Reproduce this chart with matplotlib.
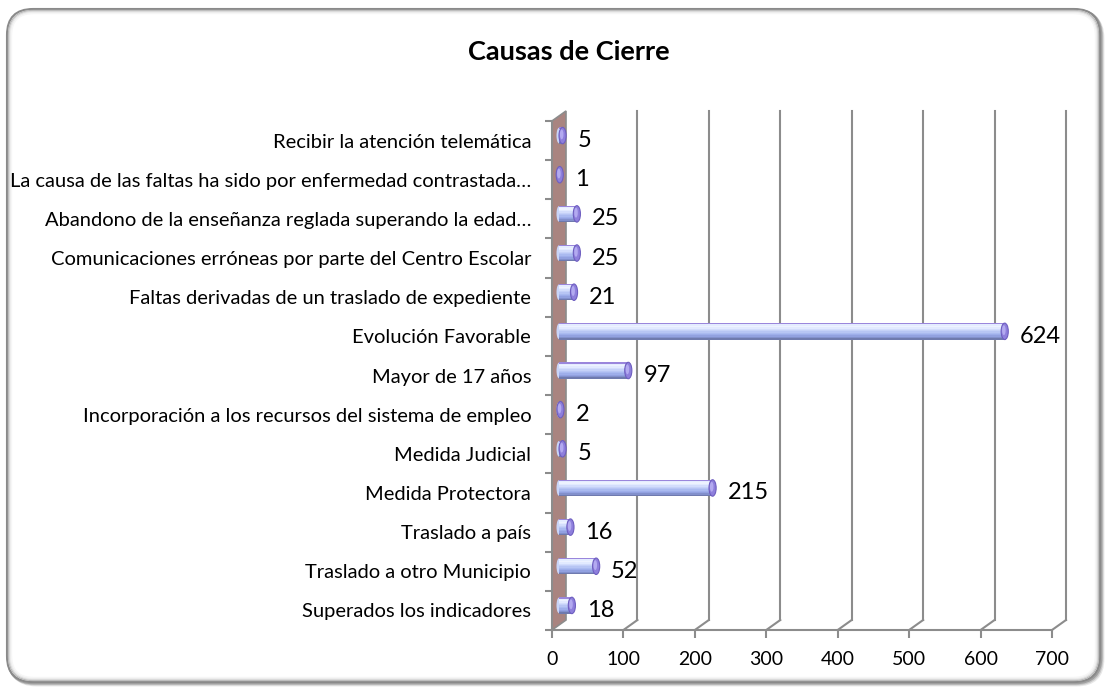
import matplotlib
matplotlib.use('Agg')
import matplotlib.pyplot as plt
from matplotlib.patches import FancyBboxPatch, Polygon, Ellipse

plt.rcParams['font.family'] = ['Lato', 'DejaVu Sans']

# data (bottom to top, as drawn)
categories = [
    'Superados los indicadores',
    'Traslado a otro Municipio',
    'Traslado a país',
    'Medida Protectora',
    'Medida Judicial',
    'Incorporación a los recursos del sistema de empleo',
    'Mayor de 17 años',
    'Evolución Favorable',
    'Faltas derivadas de un traslado de expediente',
    'Comunicaciones erróneas por parte del Centro Escolar',
    'Abandono de la enseñanza reglada superando la edad…',
    'La causa de las faltas ha sido por enfermedad contrastada…',
    'Recibir la atención telemática',
]
values = [18, 52, 16, 215, 5, 2, 97, 624, 21, 25, 25, 1, 5]
xticks = [0, 100, 200, 300, 400, 500, 600, 700]
title = 'Causas de Cierre'

W, H = 1107, 688
fig = plt.figure(figsize=(W / 100, H / 100), dpi=100)

# background frame with soft shadow
bg = fig.add_axes([0, 0, 1, 1], zorder=0)
bg.set_xlim(0, W)
bg.set_ylim(H, 0)
bg.axis('off')
shade = ['#e8e8e8', '#c8c8c8', '#a0a0a0']
for i, c in enumerate(shade):
    bg.add_patch(FancyBboxPatch((7 + 3 - i, 9 + 3 - i), 1093, 673,
                                boxstyle='round,pad=0,rounding_size=26',
                                fc='none', ec=c, lw=2))
bg.add_patch(FancyBboxPatch((7, 9), 1093, 673, boxstyle='round,pad=0,rounding_size=26',
                            fc='white', ec='#8a8a8a', lw=1.5))
for i, c in enumerate(['#b8b8b8', '#d8d8d8', '#ececec', '#f6f6f6']):
    bg.add_patch(FancyBboxPatch((8.5 + i, 10.5 + i), 1090 - 2 * i, 670 - 2 * i,
                                boxstyle='round,pad=0,rounding_size=%d' % (25 - i),
                                fc='none', ec=c, lw=1))

# plot area (front plane) in pixels
x0, x1, ytop, ybot = 552, 1052, 121, 630
ax = fig.add_axes([x0 / W, (H - ybot) / H, (x1 - x0) / W, (ybot - ytop) / H], zorder=1)
ax.patch.set_alpha(0)
n = len(categories)
xmax = 700
ax.set_xlim(0, xmax)
ax.set_ylim(-0.5, n - 0.5)

# depth offset of back plane, in data units
DX = 14 * xmax / (x1 - x0)
DY = 10 * n / (ybot - ytop)
grid = '#8c8c8c'

# left wall
ax.add_patch(Polygon([(0, -0.5), (DX, -0.5 + DY), (DX, n - 0.5 + DY), (0, n - 0.5)],
                     closed=True, fc='#a98480', ec=grid, lw=1.2, clip_on=False, zorder=1))

# back gridlines + floor diagonals
for x in xticks[1:]:
    ax.plot([x + DX, x + DX], [-0.5 + DY, n - 0.5 + DY], color=grid, lw=1.5,
            clip_on=False, zorder=1)
    ax.plot([x, x + DX], [-0.5, -0.5 + DY], color=grid, lw=1.5, clip_on=False, zorder=1)
ax.plot([0, xmax], [-0.5, -0.5], color=grid, lw=1.5, clip_on=False, zorder=2)

for s in ax.spines.values():
    s.set_visible(False)

# cylinders
h = 0.42
steps = ['#9a86dc', '#e4ecff', '#edf2ff', '#e2eaff', '#d3ddfc', '#c5d1f8', '#b7c5f4',
         '#aabaf0', '#9eaeea', '#92a1e0', '#8290cc', '#6f7aae']
for i, v in enumerate(values):
    yc = i + DY / 2
    xs = DX / 2
    ax.add_patch(Ellipse((xs, yc), 7, h * 0.95, fc='#c9d5f8', lw=0,
                         clip_on=False, zorder=3))
    k = len(steps)
    for j, c in enumerate(steps):
        ax.barh(yc + h / 2 - (j + 0.5) * h / k, v, left=xs, height=h / k,
                color=c, lw=0, zorder=4, clip_on=False)
    ax.add_patch(Ellipse((xs + v, yc), 10, h, fc='#8e7fdc', ec='#6e5ec0', lw=0.8,
                         clip_on=False, zorder=5))
    ax.add_patch(Ellipse((xs + v - 1.2, yc + 0.03), 5, h * 0.6, fc='#b3aaf0', lw=0,
                         clip_on=False, zorder=6))
    ax.annotate(str(v), (xs + v, i), xytext=(15, 0), textcoords='offset pixels',
                va='center', ha='left', fontsize=17, zorder=7)

ax.set_xticks(xticks)
ax.tick_params(axis='x', length=6, width=1.5, color=grid, labelsize=14, pad=9)
ax.set_yticks(range(n))
ax.set_yticklabels(categories)
ax.tick_params(axis='y', length=0, labelsize=14.5, pad=15)
ax.set_yticks([k - 0.5 for k in range(n + 1)], minor=True)
ax.tick_params(axis='y', which='minor', length=5, width=1.5, color=grid)
ax.plot([0, 0], [-0.5, n - 0.5], color=grid, lw=1.5, clip_on=False, zorder=2)

fig.text(569 / W, 1 - 52 / H, title, ha='center', va='center', fontsize=19.5,
         fontweight='bold')

fig.savefig('out.png', dpi=100)
